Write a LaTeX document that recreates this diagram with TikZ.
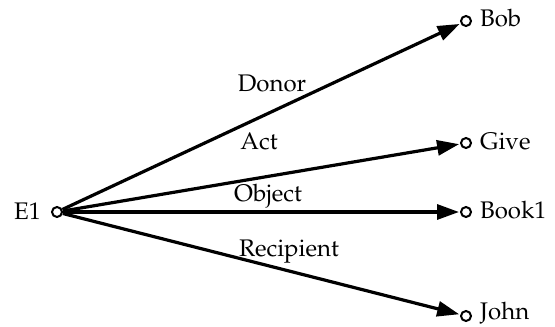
\documentclass[tikz,border=0pt]{standalone}
\usepackage[T1]{fontenc}
\usepackage{mathpazo}
\usetikzlibrary{arrows.meta}
\tikzset{
  pt/.style={circle,draw,line width=2pt,inner sep=0pt,minimum size=10pt},
  lbl/.style={font=\fontsize{24}{28}\selectfont,inner sep=1pt},
  rel/.style={line width=3.2pt,-{Triangle[length=22pt,width=15pt]},shorten >=1pt},
}
\begin{document}
\begin{tikzpicture}[x=1pt,y=-1pt]
\useasboundingbox (0,0) rectangle (555,327);
\node[pt] (e1) at (57,212) {};
\node[lbl,anchor=east] (e1l) at (42,211) {E1};
\node[pt] (bob) at (466,21) {};
\node[lbl,anchor=west] (bobl) at (479,18) {Bob};
\node[pt] (give) at (466,143) {};
\node[lbl,anchor=west] (givel) at (479,141) {Give};
\node[pt] (book) at (466,212) {};
\node[lbl,anchor=west] (bookl) at (479,210) {Book1};
\node[pt] (john) at (466,316) {};
\node[lbl,anchor=west] (johnl) at (479,313) {John};
\draw[rel] (e1) -- (bob);
\draw[rel] (e1) -- (give);
\draw[rel] (e1) -- (book);
\draw[rel] (e1) -- (john);
\node[lbl] (donor) at (272,83) {Donor};
\node[lbl] (act) at (259,141) {Act};
\node[lbl] (object) at (268,196) {Object};
\node[lbl] (recip) at (289,252) {Recipient};
\end{tikzpicture}
\end{document}
